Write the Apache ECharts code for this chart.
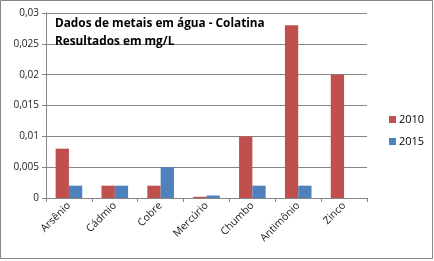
<!DOCTYPE html>
<html><head><meta charset="utf-8">
<script src="https://cdn.jsdelivr.net/npm/echarts@6/dist/echarts.min.js"></script>
<style>html,body{margin:0;padding:0;background:#fff}#c{width:434px;height:261px}</style>
</head><body><div id="c"></div>
<script>
const categories = ['Arsênio','Cádmio','Cobre','Mercúrio','Chumbo','Antimônio','Zinco'];
const values2010 = [0.008, 0.002, 0.002, 0.0002, 0.010, 0.028, 0.020];
const values2015 = [0.002, 0.002, 0.005, 0.0004, 0.002, 0.002, 0];
const seriesNames = ['2010','2015'];
const titleLines = ['Dados de metais em água - Colatina','Resultados em mg/L'];

const chart = echarts.init(document.getElementById('c'));
const font = 'Open Sans';
chart.setOption({
  animation:false,
  textStyle:{fontFamily:font},
  title:{text:titleLines.join('\n'),left:50,top:10,textStyle:{fontFamily:font,fontSize:11.8,fontWeight:'bold',color:'#000',lineHeight:18}},
  graphic:[{type:'rect',shape:{x:0.5,y:0.5,width:432,height:258},style:{fill:'none',stroke:'#868686',lineWidth:1},silent:true}],
  legend:{orient:'vertical',left:384,top:109,itemWidth:7,itemHeight:7,itemGap:11,icon:'rect',
    textStyle:{fontFamily:font,fontSize:11,color:'#000',padding:[0,0,0,-2]},data:seriesNames},
  grid:{left:46,right:67,top:13,bottom:63,containLabel:false},
  xAxis:{type:'category',data:categories,
    axisLine:{lineStyle:{color:'#868686'}},
    axisTick:{show:true,length:4,lineStyle:{color:'#868686'}},
    axisLabel:{rotate:45,fontSize:10.5,color:'#222',margin:6,fontFamily:font}},
  yAxis:{type:'value',min:0,max:0.03,interval:0.005,
    axisLine:{show:true,lineStyle:{color:'#868686'}},
    axisTick:{show:true,length:4,inside:false,lineStyle:{color:'#868686'}},
    splitLine:{lineStyle:{color:'#868686'}},
    axisLabel:{fontSize:10,color:'#222',margin:7,fontFamily:font,
      formatter:v=>v===0?'0':parseFloat(v.toFixed(4)).toString().replace('.',',')}},
  series:[
    {name:seriesNames[0],type:'bar',data:values2010,itemStyle:{color:'#C0504D'},barGap:'0%',barCategoryGap:'42%'},
    {name:seriesNames[1],type:'bar',data:values2015,itemStyle:{color:'#4F81BD'}}
  ]
});
</script></body></html>
